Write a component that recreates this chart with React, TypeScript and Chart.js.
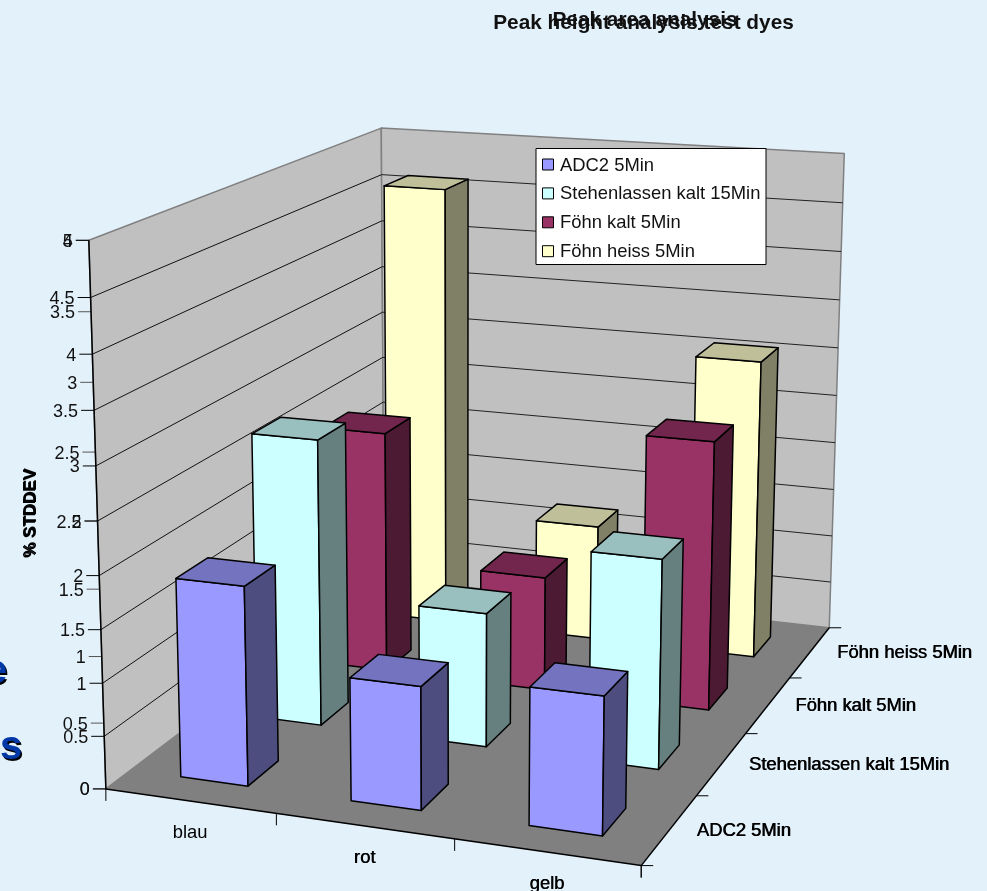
import React, { useEffect, useRef } from "react";
import { Chart, registerables } from "chart.js";

Chart.register(...registerables);

const categories = ["blau", "rot", "gelb"];
const seriesNames = ["ADC2 5Min", "Stehenlassen kalt 15Min", "Föhn kalt 5Min", "Föhn heiss 5Min"];
const adc2 = [1.88, 1.15, 1.27];
const stehenlassen = [2.8, 1.3, 2.0];
const foehnKalt = [2.45, 1.15, 2.67];
const foehnHeiss = [4.6, 1.2, 3.07];
const heightAxisMax = 5;
const areaAxisMax = 4;
const axisStep = 0.5;
const titles = ["Peak area analysis", "Peak height analysis test dyes"];
const axisTitle = "% STDDEV";

const frontColors = ["#9999FF", "#CCFFFF", "#993366", "#FFFFCC"];
const topColors = ["#7373BF", "#99BFBF", "#73264D", "#BFBF99"];
const sideColors = ["#4D4D80", "#668080", "#4D1A33", "#808066"];

// Camera calibration: box coordinates (across, depth, up) against page pixels.
const cameraAnchors: number[][] = [
  [0, 0, 0, 107, 788],
  [1, 0, 0, 640, 865],
  [1, 1, 0, 829, 628],
  [0, 1, 0, 383, 578],
  [0, 0, 1, 88, 240],
  [0, 1, 1, 382, 128],
  [1, 1, 1, 844, 154],
  [1 / 3, 0, 0, 277, 815],
  [2 / 3, 0, 0, 453, 840],
  [1, 0.25, 0, 697, 795],
  [1, 0.5, 0, 747, 733],
  [1, 0.75, 0, 790, 678],
  [0, 0, 0.5, 98, 521],
];

// Least-squares fit of the 3D-to-page projective matrix.
function fitCamera(anchors: number[][]) {
  const n = 11;
  const ata = Array.from({ length: n }, () => new Array(n + 1).fill(0));
  const add = (row: number[], rhs: number) => {
    for (let i = 0; i < n; i++) {
      for (let j = 0; j < n; j++) ata[i][j] += row[i] * row[j];
      ata[i][n] += row[i] * rhs;
    }
  };
  for (const [u, v, w, sx, sy] of anchors) {
    add([u, v, w, 1, 0, 0, 0, 0, -sx * u, -sx * v, -sx * w], sx);
    add([0, 0, 0, 0, u, v, w, 1, -sy * u, -sy * v, -sy * w], sy);
  }
  for (let c = 0; c < n; c++) {
    let pivot = c;
    for (let r = c + 1; r < n; r++) if (Math.abs(ata[r][c]) > Math.abs(ata[pivot][c])) pivot = r;
    [ata[c], ata[pivot]] = [ata[pivot], ata[c]];
    for (let r = 0; r < n; r++) {
      if (r === c) continue;
      const f = ata[r][c] / ata[c][c];
      for (let k = c; k <= n; k++) ata[r][k] -= f * ata[c][k];
    }
  }
  const p = ata.map((row, i) => row[n] / row[i]);
  return (u: number, v: number, w: number): [number, number] => {
    const d = p[8] * u + p[9] * v + p[10] * w + 1;
    return [(p[0] * u + p[1] * v + p[2] * w + p[3]) / d, (p[4] * u + p[5] * v + p[6] * w + p[7]) / d];
  };
}

const project = fitCamera(cameraAnchors);
const SANS = '"Liberation Sans", Arial, sans-serif';

function poly(ctx: CanvasRenderingContext2D, pts: [number, number][], fill: string | null, stroke: string | null, lw = 1) {
  ctx.beginPath();
  pts.forEach(([x, y], i) => (i ? ctx.lineTo(x, y) : ctx.moveTo(x, y)));
  ctx.closePath();
  if (fill) {
    ctx.fillStyle = fill;
    ctx.fill();
  }
  if (stroke) {
    ctx.strokeStyle = stroke;
    ctx.lineWidth = lw;
    ctx.stroke();
  }
}

function line(ctx: CanvasRenderingContext2D, a: [number, number], b: [number, number], color: string, lw = 1) {
  ctx.beginPath();
  ctx.moveTo(a[0], a[1]);
  ctx.lineTo(b[0], b[1]);
  ctx.strokeStyle = color;
  ctx.lineWidth = lw;
  ctx.stroke();
}

function text(ctx: CanvasRenderingContext2D, s: string, x: number, y: number, font: string, align: CanvasTextAlign = "left", color = "#000") {
  ctx.font = font;
  ctx.textAlign = align;
  ctx.textBaseline = "alphabetic";
  ctx.fillStyle = color;
  ctx.fillText(s, x, y);
}

// Draws the box, both value axes, the columns and the legend in perspective.
const perspectivePlugin = {
  id: "perspectiveColumns",
  beforeDatasetsDraw: () => false,
  afterDraw(chart: any) {
    const ctx: CanvasRenderingContext2D = chart.ctx;
    const { x: xScale, depth: depthScale, y: yScale, y2: areaScale } = chart.scales;
    const uOf = (px: number) => (px - xScale.left) / xScale.width;
    const vOf = (px: number) => (px - depthScale.left) / depthScale.width;
    const zOf = (scale: any, value: number) => (scale.bottom - scale.getPixelForValue(value)) / scale.height;
    const uStep = uOf(xScale.getPixelForValue(1)) - uOf(xScale.getPixelForValue(0));
    const vStep = vOf(depthScale.getPixelForValue(1)) - vOf(depthScale.getPixelForValue(0));

    ctx.save();
    ctx.lineJoin = "round";

    // Walls and floor
    poly(ctx, [project(0, 0, 0), project(0, 0, 1), project(0, 1, 1), project(0, 1, 0)], "#C0C0C0", "#808080", 1.5);
    poly(ctx, [project(0, 1, 0), project(0, 1, 1), project(1, 1, 1), project(1, 1, 0)], "#C0C0C0", "#808080", 1.5);
    poly(ctx, [project(0, 0, 0), project(1, 0, 0), project(1, 1, 0), project(0, 1, 0)], "#808080", null);

    // Gridlines follow the height axis
    for (const tick of yScale.ticks) {
      if (tick.value === 0 || tick.value === yScale.max) continue;
      const z = zOf(yScale, tick.value);
      line(ctx, project(0, 0, z), project(0, 1, z), "#111", 1);
      line(ctx, project(0, 1, z), project(1, 1, z), "#222", 1);
    }

    // Value axes share the same edge of the box
    for (const scale of [areaScale, yScale]) {
      for (const tick of scale.ticks) {
        const [px, py] = project(0, 0, zOf(scale, tick.value));
        line(ctx, [px - 13, py], [px, py], scale === areaScale ? "#555" : "#000", 1);
        text(ctx, String(tick.value), px - 16, py + 6.5, `18px ${SANS}`, "right", "#111");
      }
    }
    line(ctx, project(0, 0, 0), project(0, 0, 1), "#000", 1.5);
    line(ctx, project(0, 0, 0), project(1, 0, 0), "#000", 1.5);
    line(ctx, project(1, 0, 0), project(1, 1, 0), "#000", 1.5);

    // Category ticks and labels along the front edge
    categories.forEach((name, i) => {
      const u = uOf(xScale.getPixelForValue(i));
      const [mx, my] = project(u, 0, 0);
      text(ctx, name, mx, my + 37, `18.4px ${SANS}`, "center");
      if (i > 0) text(ctx, name, mx + 0.5, my + 37, `18.4px ${SANS}`, "center");
      const [a, b] = project(u + uStep / 2, 0, 0);
      line(ctx, [a, b], [a, b + 12], "#000", 1);
      if (i === 0) {
        const [c, d] = project(0, 0, 0);
        line(ctx, [c, d], [c, d + 12], "#000", 1);
      }
    });

    // Series ticks and labels along the right edge
    seriesNames.forEach((name, i) => {
      const v = vOf(depthScale.getPixelForValue(i));
      const [mx, my] = project(1, v, 0);
      const font = `18.4px ${SANS}`;
      text(ctx, name, mx + 27, my + 6, font);
      text(ctx, name, mx + 27.7, my + 6, font);
      const [a, b] = project(1, v - vStep / 2, 0);
      line(ctx, [a, b], [a + 12, b], "#000", 1);
      if (i === seriesNames.length - 1) {
        const [c, d] = project(1, 1, 0);
        line(ctx, [c, d], [c + 12, d], "#000", 1);
      }
    });
    const [bx, by] = project(1, 0, 0);
    line(ctx, [bx, by], [bx, by + 12], "#000", 1);

    // Columns, painted from the back row to the front row
    for (let s = chart.data.datasets.length - 1; s >= 0; s--) {
      const values = chart.data.datasets[s].data;
      const vc = vOf(depthScale.getPixelForValue(s));
      const v0 = vc - vStep * 0.2;
      const v1 = vc + vStep * 0.2;
      values.forEach((value: number, c: number) => {
        const uc = uOf(xScale.getPixelForValue(c));
        const u0 = uc - uStep * 0.2;
        const u1 = uc + uStep * 0.2;
        const z = zOf(yScale, value);
        poly(ctx, [project(u0, v0, 0), project(u1, v0, 0), project(u1, v0, z), project(u0, v0, z)], frontColors[s], "#000", 1.5);
        poly(ctx, [project(u1, v0, 0), project(u1, v1, 0), project(u1, v1, z), project(u1, v0, z)], sideColors[s], "#000", 1.5);
        poly(ctx, [project(u0, v0, z), project(u1, v0, z), project(u1, v1, z), project(u0, v1, z)], topColors[s], "#000", 1.5);
      });
    }

    // Legend
    ctx.fillStyle = "#fff";
    ctx.fillRect(536, 148.5, 230, 116);
    ctx.strokeStyle = "#000";
    ctx.lineWidth = 1;
    ctx.strokeRect(536, 148.5, 230, 116);
    seriesNames.forEach((name, i) => {
      const y = 164.5 + i * 28.9;
      ctx.fillStyle = frontColors[i];
      ctx.fillRect(542.5, y - 5.5, 11, 11);
      ctx.strokeRect(542.5, y - 5.5, 11, 11);
      text(ctx, name, 560, y + 6, `18.4px ${SANS}`, "left", "#111");
    });

    // Overlaid chart titles
    text(ctx, titles[0], 645, 26, `bold 20.8px ${SANS}`, "center", "#111");
    text(ctx, titles[1], 643.5, 28.5, `bold 20.8px ${SANS}`, "center", "#111");

    // Value axis title, printed once per overlaid chart
    for (const shift of [0, 1]) {
      ctx.save();
      ctx.translate(35 + shift * 0.5, 558 - shift);
      ctx.rotate(-Math.PI / 2);
      text(ctx, axisTitle, 0, 0, `bold 17px ${SANS}`);
      ctx.restore();
    }

    // Slide lettering that runs in from the left edge
    for (const [letter, lx, ly] of [["e", -15, 683], ["s", 0, 759]] as [string, number, number][]) {
      text(ctx, letter, lx + 1.5, ly + 1.5, `bold 40px ${SANS}`, "left", "#000");
      text(ctx, letter, lx, ly, `bold 40px ${SANS}`, "left", "#0038A8");
    }
    ctx.restore();
  },
};

export default function App() {
  const ref = useRef<HTMLCanvasElement>(null);
  useEffect(() => {
    const chart = new Chart(ref.current!, {
      type: "bar",
      data: {
        labels: categories,
        datasets: [adc2, stehenlassen, foehnKalt, foehnHeiss].map((data, i) => ({
          label: seriesNames[i],
          data,
          backgroundColor: frontColors[i],
          yAxisID: "y",
          xAxisID: "x",
        })),
      },
      options: {
        responsive: false,
        animation: false,
        layout: { padding: 0 },
        plugins: { legend: { display: false }, title: { display: false }, tooltip: { enabled: false } },
        scales: {
          x: { type: "category", display: false, offset: true, ticks: { autoSkip: false } },
          depth: { type: "category", axis: "x", position: "bottom", display: false, offset: true, labels: seriesNames, ticks: { autoSkip: false } },
          y: { type: "linear", display: false, min: 0, max: heightAxisMax, ticks: { stepSize: axisStep } },
          y2: { type: "linear", axis: "y", position: "left", display: false, min: 0, max: areaAxisMax, ticks: { stepSize: axisStep } },
        },
      },
      plugins: [perspectivePlugin],
    } as any);
    return () => chart.destroy();
  }, []);
  return (
    <div style={{ position: "fixed", inset: 0, background: "#E3F1FB", overflow: "hidden" }}>
      <canvas ref={ref} width={987} height={891} style={{ display: "block" }} />
    </div>
  );
}
